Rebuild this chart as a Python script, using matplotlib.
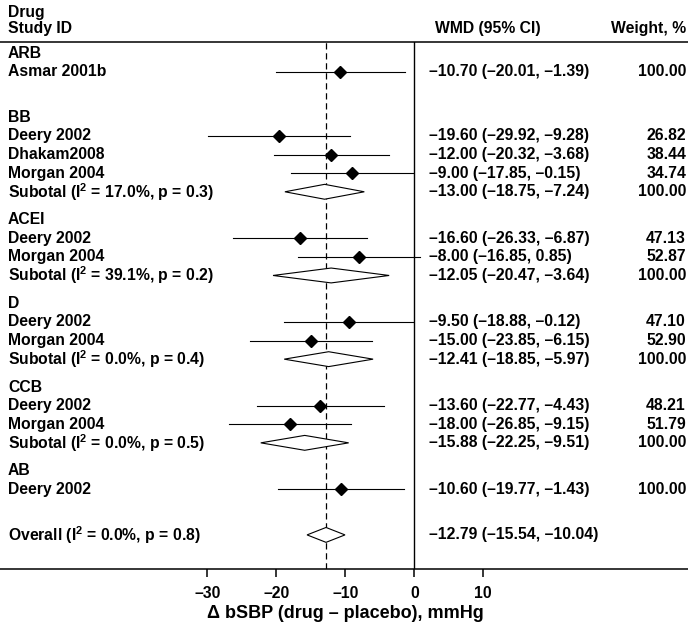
import matplotlib
matplotlib.use("Agg")
import matplotlib.pyplot as plt
from matplotlib.patches import Polygon
from matplotlib.transforms import blended_transform_factory

plt.rcParams['font.family'] = ['Liberation Sans', 'DejaVu Sans']
plt.rcParams['font.weight'] = 'bold'
plt.rcParams['axes.labelweight'] = 'bold'
plt.rcParams['font.size'] = 11.3
plt.rcParams['mathtext.fontset'] = 'custom'
plt.rcParams['mathtext.rm'] = 'Liberation Sans:bold'
plt.rcParams['mathtext.it'] = 'Liberation Sans:bold'
plt.rcParams['mathtext.bf'] = 'Liberation Sans:bold'

# data
groups = ["ARB", "BB", "ACEI", "D", "CCB", "AB"]
study_group = ["ARB", "BB", "BB", "BB", "ACEI", "ACEI", "D", "D", "CCB", "CCB", "AB"]
study_names = ["Asmar 2001b", "Deery 2002", "Dhakam2008", "Morgan 2004", "Deery 2002", "Morgan 2004",
               "Deery 2002", "Morgan 2004", "Deery 2002", "Morgan 2004", "Deery 2002"]
study_est = [-10.70, -19.60, -12.00, -9.00, -16.60, -8.00, -9.50, -15.00, -13.60, -18.00, -10.60]
study_lo = [-20.01, -29.92, -20.32, -17.85, -26.33, -16.85, -18.88, -23.85, -22.77, -26.85, -19.77]
study_hi = [-1.39, -9.28, -3.68, -0.15, -6.87, 0.85, -0.12, -6.15, -4.43, -9.15, -1.43]
study_weight = [100.00, 26.82, 38.44, 34.74, 47.13, 52.87, 47.10, 52.90, 48.21, 51.79, 100.00]

sub_groups = ["BB", "ACEI", "D", "CCB"]
sub_i2 = [17.0, 39.1, 0.0, 0.0]
sub_p = [0.3, 0.2, 0.4, 0.5]
sub_est = [-13.00, -12.05, -12.41, -15.88]
sub_lo = [-18.75, -20.47, -18.85, -22.25]
sub_hi = [-7.24, -3.64, -5.97, -9.51]

overall_est, overall_lo, overall_hi = -12.79, -15.54, -10.04
overall_i2, overall_p = 0.0, 0.8

xticks = [-30, -20, -10, 0, 10]


def fmt(v):
    return f"{v:.2f}".replace("-", "\u2013")


def ci_text(e, lo, hi):
    return f"{fmt(e)} ({fmt(lo)}, {fmt(hi)})"


fig = plt.figure(figsize=(6.88, 6.29), dpi=100)
ax = fig.add_axes([0, 0.0949, 1, 0.8388])
ax.set_xlim(-60.04, 39.67)

lab_x = 8 / 688
wmd_x = 429 / 688
wt_x = 686 / 688
tr = blended_transform_factory(ax.transAxes, ax.transData)
half_h = 0.4

# build rows
y = 0
for g in groups:
    ax.text(lab_x, y, g, transform=tr, va='center', ha='left')
    y += 1
    for i, sg in enumerate(study_group):
        if sg != g:
            continue
        ax.plot([study_lo[i], study_hi[i]], [y, y], color='black', lw=0.8)
        ax.plot(study_est[i], y, marker='D', color='black', markersize=6.6)
        ax.text(lab_x, y, study_names[i], transform=tr, va='center', ha='left')
        ax.text(wmd_x, y, ci_text(study_est[i], study_lo[i], study_hi[i]), transform=tr, va='center', ha='left')
        ax.text(wt_x, y, f"{study_weight[i]:.2f}", transform=tr, va='center', ha='right')
        y += 1
    if g in sub_groups:
        k = sub_groups.index(g)
        ax.add_patch(Polygon([(sub_lo[k], y), (sub_est[k], y - half_h), (sub_hi[k], y), (sub_est[k], y + half_h)],
                             closed=True, facecolor='white', edgecolor='black', lw=0.8, zorder=3))
        ax.text(lab_x, y, f"Subotal (I$^{{2}}$ = {sub_i2[k]:.1f}%, p = {sub_p[k]})", transform=tr, va='center', ha='left')
        ax.text(wmd_x, y, ci_text(sub_est[k], sub_lo[k], sub_hi[k]), transform=tr, va='center', ha='left')
        ax.text(wt_x, y, "100.00", transform=tr, va='center', ha='right')
        y += 1.5
    else:
        y += 1.45

ax.add_patch(Polygon([(overall_lo, y), (overall_est, y - half_h), (overall_hi, y), (overall_est, y + half_h)],
                     closed=True, facecolor='white', edgecolor='black', lw=0.8, zorder=3))
ax.text(lab_x, y, f"Overall (I$^{{2}}$ = {overall_i2:.1f}%, p = {overall_p})", transform=tr, va='center', ha='left')
ax.text(wmd_x, y, ci_text(overall_est, overall_lo, overall_hi), transform=tr, va='center', ha='left')

ax.set_ylim(27.75, -0.62)

ax.axvline(0, color='black', lw=1.0, zorder=1)
ax.axvline(overall_est, color='black', lw=0.9, linestyle=(0, (5, 3)), zorder=1)

# headers
ax.text(lab_x, -2.2, "Drug", transform=tr, va='center', ha='left', clip_on=False)
ax.text(lab_x, -1.35, "Study ID", transform=tr, va='center', ha='left', clip_on=False)
ax.text(435 / 688, -1.35, "WMD (95% CI)", transform=tr, va='center', ha='left', clip_on=False)
ax.text(wt_x, -1.35, "Weight, %", transform=tr, va='center', ha='right', clip_on=False)

for s in ['left', 'right']:
    ax.spines[s].set_visible(False)
ax.spines['top'].set_linewidth(1.1)
ax.spines['bottom'].set_linewidth(1.1)
ax.set_yticks([])
ax.set_xticks(xticks)
ax.set_xticklabels([str(t).replace("-", "\u2013") for t in xticks])
ax.tick_params(axis='x', direction='out', length=5.8, width=1.1, pad=6, labelsize=11.3)

ax.set_xlabel("\u0394 bSBP (drug \u2013 placebo), mmHg", fontsize=13, fontweight='bold')
ax.xaxis.set_label_coords(-10, -0.068, transform=blended_transform_factory(ax.transData, ax.transAxes))

fig.savefig("out.png", dpi=100)
